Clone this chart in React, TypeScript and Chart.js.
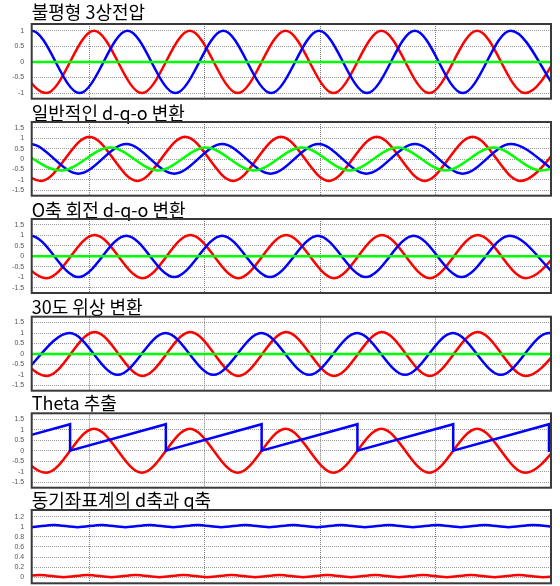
import React, { useEffect, useRef } from "react";
import { Chart, registerables } from "chart.js";

Chart.register(...registerables);

// ---------- text ----------
const titles = [
  "불평형 3상전압",
  "일반적인 d-q-o 변환",
  "O축 회전 d-q-o 변환",
  "30도 위상 변환",
  "Theta 추출",
  "동기좌표계의 d축과 q축",
];

// ---------- axes (time in ms) ----------
const timeMin = 0;
const timeMax = 90;
const timeGrid = [10, 30, 50, 70];
const yMins = [-1.18, -1.76, -1.76, -1.76, -1.76, -0.12];
const yMaxs = [1.22, 1.78, 1.78, 1.78, 1.78, 1.33];
const ySteps = [0.5, 0.5, 0.5, 0.5, 0.5, 0.2];

// ---------- panel 1: 불평형 3상전압 (extrema) ----------
const p1RedT = [-5.8, 2.5, 10.8, 19.1, 27.4, 35.7, 44.0, 52.3, 60.6, 68.9, 77.2, 85.5, 93.8];
const p1RedY = [1, -1, 1, -1, 1, -1, 1, -1, 1, -1, 1, -1, 1];
const p1BlueT = [-8.3, 0, 8.3, 16.6, 24.9, 33.2, 41.5, 49.8, 58.1, 66.4, 74.7, 83.0, 91.3];
const p1BlueY = [-1, 1, -1, 1, -1, 1, -1, 1, -1, 1, -1, 1, -1];
const p1GreenT = [0, 90];
const p1GreenY = [0, 0];

// ---------- panel 2: 일반적인 d-q-o 변환 ----------
const p2RedT = [-6.7, 1.6, 10.0, 18.3, 26.6, 34.9, 43.2, 51.5, 59.8, 68.1, 76.4, 84.7, 93.0];
const p2RedY = [1.07, -1.05, 1.07, -1.05, 1.07, -1.05, 1.07, -1.05, 1.07, -1.05, 1.07, -1.05, 1.07];
const p2BlueT = [-8.6, -0.3, 8.1, 16.4, 24.7, 33.0, 41.4, 49.7, 58.0, 66.4, 74.7, 83.0, 91.3];
const p2BlueY = [-0.7, 0.72, -0.7, 0.72, -0.7, 0.72, -0.7, 0.72, -0.7, 0.72, -0.7, 0.72, -0.7];
const p2GreenT = [-3.0, 5.1, 13.6, 21.9, 30.2, 38.5, 46.8, 55.1, 63.4, 71.7, 80.0, 88.3, 96.6];
const p2GreenY = [0.55, -0.55, 0.55, -0.55, 0.55, -0.55, 0.55, -0.55, 0.55, -0.55, 0.55, -0.55, 0.55];

// ---------- panel 3: O축 회전 d-q-o 변환 ----------
const p3RedT = [-5.7, 2.6, 10.9, 19.2, 27.5, 35.8, 44.1, 52.4, 60.7, 69.0, 77.3, 85.6, 93.9];
const p3RedY = [1.02, -1.05, 1.02, -1.05, 1.02, -1.05, 1.02, -1.05, 1.02, -1.05, 1.02, -1.05, 1.02];
const p3BlueT = [-8.5, -0.2, 8.1, 16.4, 24.7, 33.0, 41.3, 49.6, 57.9, 66.2, 74.5, 82.8, 91.1];
const p3BlueY = [-1, 0.98, -1, 0.98, -1, 0.98, -1, 0.98, -1, 0.98, -1, 0.98, -1];
const p3GreenT = [0, 90];
const p3GreenY = [0, 0];

// ---------- panel 4: 30도 위상 변환 ----------
const p4RedT = [-5.7, 2.6, 10.9, 19.2, 27.5, 35.8, 44.1, 52.4, 60.7, 69.0, 77.3, 85.6, 93.9];
const p4RedY = [1.05, -1.06, 1.05, -1.06, 1.05, -1.06, 1.05, -1.06, 1.05, -1.06, 1.05, -1.06, 1.05];
const p4BlueT = [-1.7, 6.6, 14.9, 23.2, 31.5, 39.8, 48.1, 56.4, 64.7, 73.0, 81.3, 89.6, 97.9];
const p4BlueY = [-1, 1, -1, 1, -1, 1, -1, 1, -1, 1, -1, 1, -1];
const p4GreenT = [0, 90];
const p4GreenY = [0, 0];

// ---------- panel 5: Theta 추출 ----------
const p5RedT = [-5.8, 2.5, 10.8, 19.1, 27.4, 35.7, 44.0, 52.3, 60.6, 68.9, 77.2, 85.5, 93.8];
const p5RedY = [1.05, -1.05, 1.05, -1.05, 1.05, -1.05, 1.05, -1.05, 1.05, -1.05, 1.05, -1.05, 1.05];
const p5ThetaT = [-9.95, 6.65, 6.65, 23.25, 23.25, 39.85, 39.85, 56.45, 56.45, 73.05, 73.05, 89.65, 89.65, 106.25];
const p5ThetaY = [0, 1.26, 0, 1.26, 0, 1.26, 0, 1.26, 0, 1.26, 0, 1.26, 0, 1.26];

// ---------- panel 6: 동기좌표계의 d축과 q축 ----------
const p6DT = [-4.5, -0.35, 3.8, 7.95, 12.1, 16.25, 20.4, 24.55, 28.7, 32.85, 37.0, 41.15, 45.3, 49.45, 53.6, 57.75, 61.9, 66.05, 70.2, 74.35, 78.5, 82.65, 86.8, 90.95];
const p6DY = [1.035, 0.99, 1.035, 0.99, 1.035, 0.99, 1.035, 0.99, 1.035, 0.99, 1.035, 0.99, 1.035, 0.99, 1.035, 0.99, 1.035, 0.99, 1.035, 0.99, 1.035, 0.99, 1.035, 0.99];
const p6QT = [-2.75, 1.4, 5.55, 9.7, 13.85, 18.0, 22.15, 26.3, 30.45, 34.6, 38.75, 42.9, 47.05, 51.2, 55.35, 59.5, 63.65, 67.8, 71.95, 76.1, 80.25, 84.4, 88.55, 92.7];
const p6QY = [0, 0.045, 0, 0.045, 0, 0.045, 0, 0.045, 0, 0.045, 0, 0.045, 0, 0.045, 0, 0.045, 0, 0.045, 0, 0.045, 0, 0.045, 0, 0.045];

const RED = "#ff0000";
const BLUE = "#0000ff";
const GREEN = "#00ff00";

type Series = { t: number[]; y: number[]; color: string; smooth: boolean };

// first entry is drawn on top
const panelSeries: Series[][] = [
  [
    { t: p1GreenT, y: p1GreenY, color: GREEN, smooth: false },
    { t: p1BlueT, y: p1BlueY, color: BLUE, smooth: true },
    { t: p1RedT, y: p1RedY, color: RED, smooth: true },
  ],
  [
    { t: p2GreenT, y: p2GreenY, color: GREEN, smooth: true },
    { t: p2BlueT, y: p2BlueY, color: BLUE, smooth: true },
    { t: p2RedT, y: p2RedY, color: RED, smooth: true },
  ],
  [
    { t: p3GreenT, y: p3GreenY, color: GREEN, smooth: false },
    { t: p3BlueT, y: p3BlueY, color: BLUE, smooth: true },
    { t: p3RedT, y: p3RedY, color: RED, smooth: true },
  ],
  [
    { t: p4GreenT, y: p4GreenY, color: GREEN, smooth: false },
    { t: p4BlueT, y: p4BlueY, color: BLUE, smooth: true },
    { t: p4RedT, y: p4RedY, color: RED, smooth: true },
  ],
  [
    { t: p5ThetaT, y: p5ThetaY, color: BLUE, smooth: false },
    { t: p5RedT, y: p5RedY, color: RED, smooth: true },
  ],
  [
    { t: p6DT, y: p6DY, color: BLUE, smooth: true },
    { t: p6QT, y: p6QY, color: RED, smooth: true },
  ],
];

// ---------- layout (pixels) ----------
const canvasTops = [0, 98, 195, 293, 389, 486];
const plotTops = [24, 122, 219, 316.7, 413.3, 510];
const plotBottoms = [98.7, 195.7, 293, 390.7, 487.7, 583.3];
const titleCenters = [12.5, 113.4, 210, 307, 403, 500];
const CANVAS_H = 100;
const PLOT_LEFT = 31.7;
const PLOT_RIGHT = 551;
const TITLE_SIZE = 18;

const framePlugin = {
  id: "plotFrame",
  afterDatasetsDraw(chart: any) {
    const { ctx, chartArea: a } = chart;
    ctx.save();
    ctx.strokeStyle = "#3a3a3a";
    ctx.lineWidth = 2;
    ctx.strokeRect(a.left, a.top, a.right - a.left, a.bottom - a.top);
    ctx.restore();
  },
};

function Panel({ index }: { index: number }) {
  const ref = useRef<HTMLCanvasElement>(null);
  useEffect(() => {
    const top = canvasTops[index];
    const titleH = plotTops[index] - top;
    const padTop = titleCenters[index] - top - TITLE_SIZE / 2;
    const padBottomTitle = titleH - TITLE_SIZE - padTop;
    const padBottom = top + CANVAS_H - plotBottoms[index];
    const chart = new Chart(ref.current as HTMLCanvasElement, {
      type: "line",
      data: {
        datasets: panelSeries[index].map((s) => ({
          data: s.t.map((x, i) => ({ x, y: s.y[i] })),
          borderColor: s.color,
          backgroundColor: s.color,
          borderWidth: 2.5,
          pointRadius: 0,
          pointHitRadius: 0,
          fill: false,
          tension: 0,
          capBezierPoints: false,
          cubicInterpolationMode: s.smooth ? "monotone" : "default",
        })),
      },
      options: {
        animation: false,
        responsive: false,
        events: [],
        layout: { padding: { left: 0, right: 560 - PLOT_RIGHT, top: 0, bottom: padBottom } },
        plugins: {
          legend: { display: false },
          tooltip: { enabled: false },
          title: {
            display: true,
            text: titles[index],
            align: "start",
            fullSize: false,
            color: "#000000",
            font: { family: "'Noto Sans CJK KR', 'Noto Sans', sans-serif", size: TITLE_SIZE, weight: "normal", lineHeight: 1 },
            padding: { top: padTop, bottom: padBottomTitle },
          },
        },
        scales: {
          x: {
            type: "linear",
            min: timeMin,
            max: timeMax,
            ticks: { display: false },
            grid: { color: "#7a7a7a", drawTicks: false, lineWidth: 1 },
            border: { display: false, dash: [1, 1] },
            afterBuildTicks: (s: any) => {
              s.ticks = timeGrid.map((v) => ({ value: v }));
            },
            afterFit: (s: any) => {
              s.height = 0;
              s.paddingLeft = 0;
              s.paddingRight = 0;
            },
          },
          y: {
            type: "linear",
            min: yMins[index],
            max: yMaxs[index],
            ticks: {
              stepSize: ySteps[index],
              includeBounds: false,
              padding: 7.5,
              color: "#555555",
              font: { family: "'Liberation Sans', Arial, sans-serif", size: 7 },
              callback: (v: any) => String(Math.round(Number(v) * 10) / 10),
            },
            grid: { color: "#999999", drawTicks: false, lineWidth: 1 },
            border: { display: false, dash: [1, 1] },
            afterFit: (s: any) => {
              s.width = PLOT_LEFT;
              s.paddingTop = 0;
              s.paddingBottom = 0;
            },
          },
        },
      } as any,
      plugins: [framePlugin],
    });
    return () => chart.destroy();
  }, [index]);
  return (
    <canvas
      ref={ref}
      width={560}
      height={CANVAS_H}
      style={{ position: "absolute", left: 0, top: canvasTops[index], width: 560, height: CANVAS_H, display: "block" }}
    />
  );
}

export default function App() {
  return (
    <div style={{ position: "absolute", left: 0, top: 0, width: 560, height: 586, background: "#ffffff" }}>
      {titles.map((_, i) => (
        <Panel key={i} index={i} />
      ))}
    </div>
  );
}
